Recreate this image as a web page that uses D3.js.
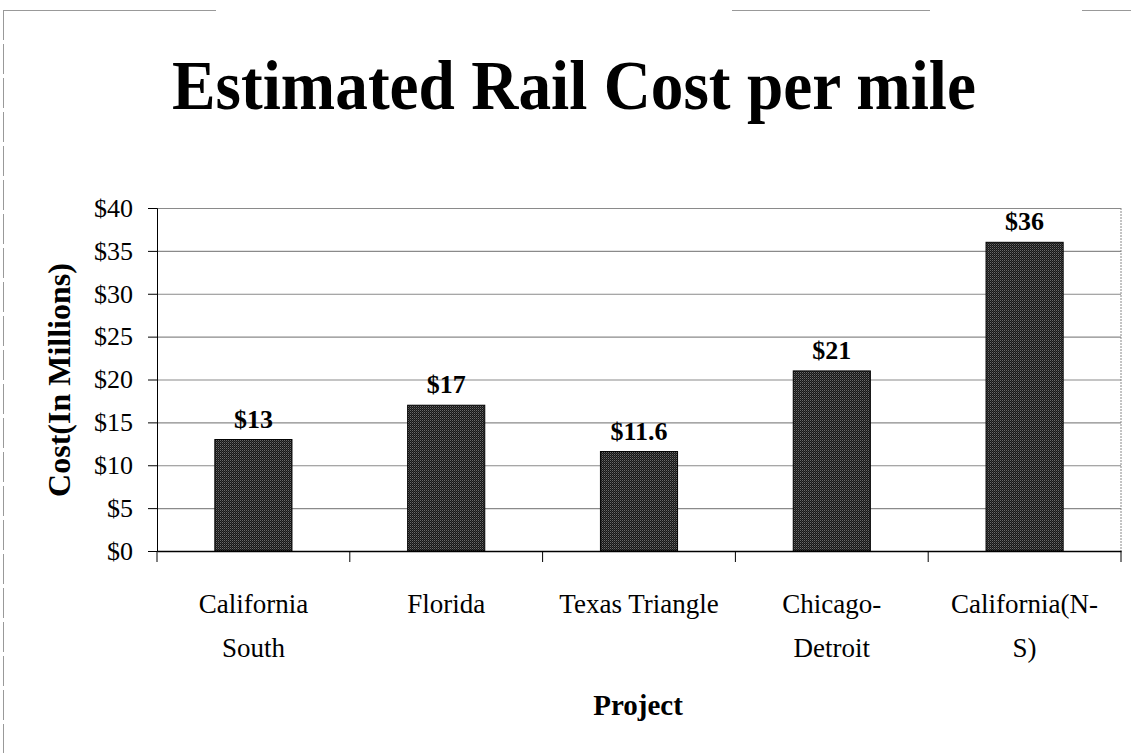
<!DOCTYPE html>
<html>
<head>
<meta charset="utf-8">
<script src="https://cdn.jsdelivr.net/npm/d3@7"></script>
<style>
  body { margin: 0; background: #fff; }
  text { font-family: "Liberation Serif", "Times New Roman", serif; fill: #000; }
</style>
</head>
<body>
<div id="chart"></div>
<script>
// data
const categories = ["California South", "Florida", "Texas Triangle", "Chicago-Detroit", "California(N-S)"];
const tickLines = [["California", "South"], ["Florida"], ["Texas Triangle"], ["Chicago-", "Detroit"], ["California(N-", "S)"]];
const costs = [13, 17, 11.6, 21, 36];
const yTicks = [0, 5, 10, 15, 20, 25, 30, 35, 40];

const W = 1131, H = 753;
const plot = { left: 157, right: 1121, top: 208, bottom: 551 };

const svg = d3.select("#chart").append("svg")
  .attr("width", W)
  .attr("height", H);

// bar texture (dithered dark grey)
const defs = svg.append("defs");
const pat = defs.append("pattern")
  .attr("id", "dither")
  .attr("width", 2).attr("height", 2)
  .attr("patternUnits", "userSpaceOnUse");
pat.append("rect").attr("width", 2).attr("height", 2).attr("fill", "#161616");
pat.append("rect").attr("width", 1).attr("height", 1).attr("fill", "#6a6a6a");
pat.append("rect").attr("x", 1).attr("y", 1).attr("width", 1).attr("height", 1).attr("fill", "#3a3a3a");

// faint frame of the scanned page (left and top edges only)
svg.append("line")
  .attr("x1", 3.5).attr("x2", 3.5).attr("y1", 10).attr("y2", H)
  .attr("stroke", "#999").attr("stroke-dasharray", "30,4");
svg.append("line")
  .attr("x1", 3).attr("x2", W).attr("y1", 10.5).attr("y2", 10.5)
  .attr("stroke", "#999").attr("stroke-dasharray", "213,516,198,152,49");

// title
svg.append("text")
  .attr("x", 172).attr("y", 109)
  .attr("textLength", 804)
  .attr("lengthAdjust", "spacingAndGlyphs")
  .style("font-size", "70px")
  .style("font-weight", "bold")
  .text("Estimated Rail Cost per mile");

const x = d3.scaleBand().domain(categories).range([plot.left, plot.right]).padding(0);
const y = d3.scaleLinear().domain([0, 40]).range([plot.bottom, plot.top]);

// gridlines
svg.append("g")
  .attr("transform", `translate(${plot.left},0)`)
  .call(d3.axisLeft(y).tickValues(yTicks.slice(1)).tickSize(-(plot.right - plot.left)).tickFormat(""))
  .call(g => g.select(".domain").remove())
  .call(g => g.selectAll("line").attr("stroke", "#8a8a8a").attr("stroke-width", 1.2));

// right border of plot area
svg.append("line")
  .attr("x1", plot.right).attr("x2", plot.right)
  .attr("y1", plot.top).attr("y2", plot.bottom)
  .attr("stroke", "#888").attr("stroke-dasharray", "2,1");

// bars
const barW = x.bandwidth() * 0.4;
svg.append("g").selectAll("rect")
  .data(costs)
  .join("rect")
  .attr("x", (d, i) => x(categories[i]) + (x.bandwidth() - barW) / 2)
  .attr("y", d => y(d))
  .attr("width", barW)
  .attr("height", d => y(0) - y(d))
  .attr("fill", "url(#dither)")
  .attr("stroke", "#000")
  .attr("stroke-width", 1);

// value labels
svg.append("g").selectAll("text")
  .data(costs)
  .join("text")
  .attr("x", (d, i) => x(categories[i]) + x.bandwidth() / 2)
  .attr("y", d => y(d) - 12)
  .attr("text-anchor", "middle")
  .style("font-size", "26px")
  .style("font-weight", "bold")
  .text(d => "$" + d);

// y axis
svg.append("g")
  .attr("transform", `translate(${plot.left},0)`)
  .call(d3.axisLeft(y).tickValues(yTicks).tickSize(9).tickPadding(15).tickFormat(d => "$" + d))
  .call(g => g.select(".domain").attr("stroke", "#000"))
  .call(g => g.selectAll("line").attr("stroke", "#000"))
  .call(g => g.selectAll("text").style("font-size", "26px").attr("font-family", null));

// x axis line
svg.append("g")
  .attr("transform", `translate(0,${plot.bottom})`)
  .call(d3.axisBottom(x).tickSize(0).tickFormat(""))
  .call(g => g.select(".domain").attr("stroke", "#000").attr("stroke-width", 1.5));

// x axis ticks at category boundaries
const bounds = categories.map(c => x(c)).concat([x(categories[categories.length - 1]) + x.bandwidth()]);
svg.append("g").selectAll("line")
  .data(bounds)
  .join("line")
  .attr("x1", d => d).attr("x2", d => d)
  .attr("y1", plot.bottom).attr("y2", plot.bottom + 11)
  .attr("stroke", "#000");

// x tick labels (two lines)
const lbl = svg.append("g").selectAll("text")
  .data(categories)
  .join("text")
  .attr("x", d => x(d) + x.bandwidth() / 2)
  .attr("y", 613)
  .attr("text-anchor", "middle")
  .style("font-size", "27px");
lbl.each(function (d, i) {
  d3.select(this).selectAll("tspan")
    .data(tickLines[i])
    .join("tspan")
    .attr("x", x(d) + x.bandwidth() / 2)
    .attr("dy", (t, j) => j === 0 ? 0 : 44)
    .text(t => t);
});

// axis titles
svg.append("text")
  .attr("x", 638).attr("y", 715)
  .attr("text-anchor", "middle")
  .style("font-size", "29px")
  .style("font-weight", "bold")
  .text("Project");

svg.append("text")
  .attr("transform", "translate(70,380) rotate(-90)")
  .attr("text-anchor", "middle")
  .style("font-size", "32px")
  .style("font-weight", "bold")
  .text("Cost(In Millions)");
</script>
</body>
</html>
